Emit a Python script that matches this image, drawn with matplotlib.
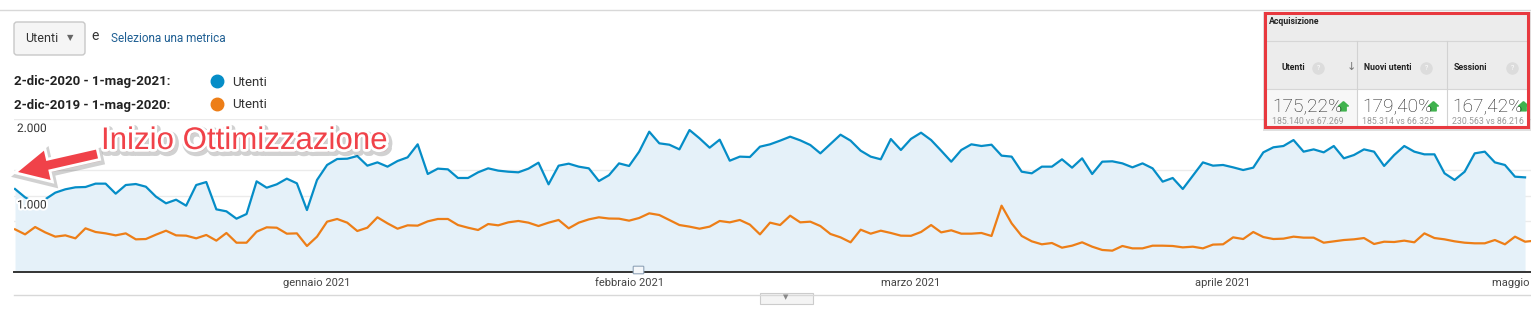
import numpy as np
import pandas as pd
import matplotlib.pyplot as plt
import matplotlib.patheffects as pe
from matplotlib.patches import Rectangle, FancyBboxPatch, FancyArrow
from matplotlib.path import Path

plt.rcParams['font.family'] = ['Roboto', 'DejaVu Sans']

# Utenti giornalieri, 2-dic-2020 .. 1-mag-2021
utenti_2021 = [
    1085, 976, 906, 950, 1037, 1081, 1107, 1111, 1155, 1155,
    1024, 1137, 1150, 1115, 985, 898, 945, 867, 1137, 1176,
    819, 793, 697, 758, 1185, 1102, 1146, 1220, 1159, 810,
    1203, 1399, 1477, 1481, 1516, 1390, 1433, 1377, 1451, 1499,
    1669, 1281, 1351, 1342, 1229, 1229, 1303, 1355, 1325, 1311,
    1303, 1351, 1429, 1146, 1390, 1416, 1377, 1355, 1189, 1265,
    1420, 1386, 1573, 1834, 1682, 1664, 1603, 1856, 1747, 1625,
    1730, 1455, 1508, 1503, 1638, 1669, 1717, 1769, 1721, 1660,
    1551, 1673, 1795, 1717, 1586, 1508, 1473, 1738, 1595, 1740,
    1821, 1725, 1586, 1442, 1595, 1669, 1647, 1664, 1521, 1508,
    1311, 1290, 1377, 1377, 1473, 1364, 1486, 1281, 1442, 1447,
    1420, 1368, 1420, 1355, 1181, 1229, 1085, 1259, 1433, 1390,
    1399, 1368, 1333, 1364, 1564, 1630, 1647, 1725, 1573, 1603,
    1564, 1647, 1486, 1529, 1603, 1573, 1386, 1529, 1647, 1573,
    1538, 1538, 1290, 1203, 1311, 1551, 1573, 1433, 1399, 1246, 1237,
]
# Utenti giornalieri, 2-dic-2019 .. 1-mag-2020 (bisestile: un giorno in piu)
utenti_2020 = [
    558, 492, 588, 518, 462, 479, 440, 571, 523, 505,
    479, 505, 427, 431, 488, 540, 479, 475, 440, 484,
    410, 510, 383, 383, 527, 584, 579, 501, 505, 340,
    462, 658, 693, 645, 536, 579, 715, 636, 566, 610,
    606, 662, 693, 693, 614, 579, 549, 627, 610, 649,
    667, 645, 601, 645, 680, 571, 645, 688, 715, 699,
    697, 671, 706, 767, 745, 680, 614, 593, 566, 593,
    667, 649, 680, 619, 492, 645, 614, 736, 649, 658,
    601, 497, 453, 388, 553, 501, 540, 510, 475, 473,
    523, 614, 518, 545, 501, 501, 510, 471, 867, 636,
    471, 401, 362, 379, 318, 344, 388, 331, 288, 279,
    340, 309, 309, 344, 344, 340, 322, 331, 309, 358,
    362, 453, 431, 523, 457, 431, 436, 462, 449, 449,
    383, 401, 418, 427, 444, 366, 396, 392, 410, 388,
    505, 444, 427, 401, 383, 375, 375, 418, 362, 462,
    396, 410,
]
mesi = ['gennaio', 'febbraio', 'marzo', 'aprile', 'maggio']
y_ticks = [2000, 1000]
y_labels = ['2.000', '1.000']

metriche = ['Utenti', 'Nuovi utenti', 'Sessioni']
variazioni = ['175,22%', '179,40%', '167,42%']
confronti = ['185.140 vs 67.269', '185.314 vs 66.325', '230.563 vs 86.216']

BLUE = '#058dc7'
ORANGE = '#ed7e17'
RED = '#f04249'

days = pd.date_range('2020-12-02', '2021-05-01')
x21 = np.arange(len(utenti_2021))
x20 = np.arange(len(utenti_2020))
month_idx = [i for i, d in enumerate(days) if d.day == 1]

W, H = 1531, 309
fig = plt.figure(figsize=(W / 100, H / 100), dpi=100)

# ---- main chart
ax = fig.add_axes([14 / W, (H - 272) / H, 1517 / W, 153 / H])
ax.fill_between(x21, utenti_2021, 0, color='#e5f1f9', lw=0, zorder=1)
for g in [2000, 4000 / 3, 1000, 2000 / 3]:
    ax.axhline(g, color='#ebebeb', lw=1, zorder=0)
ax.plot(x20, utenti_2020, color=ORANGE, lw=1.6, zorder=3, solid_joinstyle='round')
ax.plot(x21, utenti_2021, color=BLUE, lw=1.6, zorder=4, solid_joinstyle='round')
ax.set_xlim(-0.1, 150.59)
ax.set_ylim(0, 2000)
for s in ['top', 'left', 'right']:
    ax.spines[s].set_visible(False)
ax.spines['bottom'].set_color('#333333')
ax.spines['bottom'].set_linewidth(1.4)
ax.set_yticks([])
ax.set_xticks(month_idx)
ax.set_xticklabels([f'{m} 2021' for m in mesi], fontsize=8, color='#444444')
ax.tick_params(axis='x', length=0, pad=4)
for v, lab in zip(y_ticks, y_labels):
    ax.annotate(lab, xy=(0, v), xycoords=('axes fraction', 'data'), xytext=(3, -3),
                textcoords='offset pixels', va='top', ha='left', fontsize=8.5,
                color='#333333', zorder=6,
                path_effects=[pe.withStroke(linewidth=3, foreground='white')])

# ---- overlay in pixel coordinates
ov = fig.add_axes([0, 0, 1, 1])
ov.set_xlim(0, W)
ov.set_ylim(H, 0)
ov.axis('off')
ov.patch.set_alpha(0)
ov.set_zorder(5)

ov.plot([0, W], [10, 10], color='#d8d8d8', lw=1)
ov.plot([14, W], [295, 295], color='#d8d8d8', lw=1)
ov.add_patch(Rectangle((760, 293), 53, 11, facecolor='#f4f4f4', edgecolor='#cccccc', lw=0.8))
ov.text(786, 298, '▼', fontsize=5, color='#888888', ha='center', va='center')
ov.add_patch(FancyBboxPatch((634, 267), 9, 6, boxstyle='round,pad=0.8',
                            facecolor='#f4f7fa', edgecolor='#8fa3b8', lw=0.8))

# dropdown + selector
ov.add_patch(FancyBboxPatch((14, 22), 71, 33, boxstyle='round,pad=0,rounding_size=3',
                            facecolor='#f5f5f5', edgecolor='#c8c8c8', lw=1))
ov.text(25, 39, 'Utenti', fontsize=9, color='#333333', va='center')
ov.text(70, 38, '▼', fontsize=6, color='#666666', va='center', ha='center')
ov.text(91, 36, 'e', fontsize=10, color='#333333', va='center')
ov.text(111, 39, 'Seleziona una metrica', fontsize=8.5, color='#1f5f93', va='center')

# legend
for yy, lab, col in [(82, '2-dic-2020 - 1-mag-2021:', BLUE), (105, '2-dic-2019 - 1-mag-2020:', ORANGE)]:
    ov.text(14, yy, lab, fontsize=9.5, fontweight='bold', color='#222222', va='center')
    ov.plot(217, yy - 1, 'o', ms=9, color=col)
    ov.text(232, yy, 'Utenti', fontsize=9.5, color='#333333', va='center')

# annotation
shadow = [pe.Stroke(linewidth=6, foreground='#000000', alpha=0.18, offset=(1.5, -2)),
          pe.Stroke(linewidth=4, foreground='white'), pe.Normal()]
arr = FancyArrow(97, 154, -79, 18, width=9, head_width=30, head_length=30,
                 length_includes_head=True, facecolor=RED, edgecolor='none')
arr.set_path_effects(shadow)
ov.add_patch(arr)
ov.text(101, 141, 'Inizio Ottimizzazione', fontsize=22.5, color=RED,
        family=['Liberation Sans', 'DejaVu Sans'], va='center', ha='left',
        path_effects=shadow)

# shadow of the table box
ov.add_patch(Rectangle((1263, 12), 268, 119, facecolor='#000000', alpha=0.12,
                       edgecolor='none'))

# ---- table box
tb = fig.add_axes([1265 / W, (H - 127) / H, 263 / W, 114 / H])
tb.set_xlim(1265, 1528)
tb.set_ylim(127, 13)
tb.set_xticks([])
tb.set_yticks([])
for s in tb.spines.values():
    s.set_visible(False)
tb.set_zorder(6)
tb.add_patch(Rectangle((1265, 13), 263, 76, facecolor='#ececec', edgecolor='none'))
tb.add_patch(Rectangle((1265, 89), 92, 38, facecolor='#f7f7f7', edgecolor='none'))
tb.plot([1265, 1528], [41, 41], color='#d6d6d6', lw=0.8)
tb.plot([1265, 1528], [89, 89], color='#d6d6d6', lw=0.8)
for xs in [1357, 1447]:
    tb.plot([xs, xs], [41, 127], color='#d2d2d2', lw=0.8)
tb.text(1269, 21, 'Acquisizione', fontsize=6.3, fontweight='bold', color='#222222', va='center')

col_x = [1272, 1362, 1452]
head_x = [1282, 1364, 1454]
q_x = [1318, 1426, 1512]
icon = Path([(0, 1), (1, 0.1), (0.55, 0.1), (0.55, -0.9), (-0.55, -0.9),
             (-0.55, 0.1), (-1, 0.1), (0, 1)])
for i, m in enumerate(metriche):
    tb.text(head_x[i], 68, m, fontsize=6.3, fontweight='bold', color='#222222', va='center', clip_on=True)
    tb.plot(q_x[i], 68, 'o', ms=8, color='#dcdcdc', clip_on=True)
    tb.text(q_x[i], 68, '?', fontsize=5, color='white', ha='center', va='center', clip_on=True)
    tb.text(col_x[i], 107, variazioni[i], fontsize=13.8, fontweight='light', color='#222222',
            va='center', clip_on=True)
    tb.plot(col_x[i] + 71, 106, marker=icon, ms=7, color='#3fb24d', clip_on=True)
    tb.text(col_x[i], 121, confronti[i], fontsize=6.3, color='#9a9a9a', va='center', clip_on=True)
tb.text(1351, 67, '↓', fontsize=8, color='#777777', ha='center', va='center', family=['DejaVu Sans'])
tb.add_patch(Rectangle((1265, 13), 263, 114, facecolor='none', edgecolor='#e8393f', lw=2.2,
                       clip_on=False, zorder=10))

fig.savefig('out.png', dpi=100)
